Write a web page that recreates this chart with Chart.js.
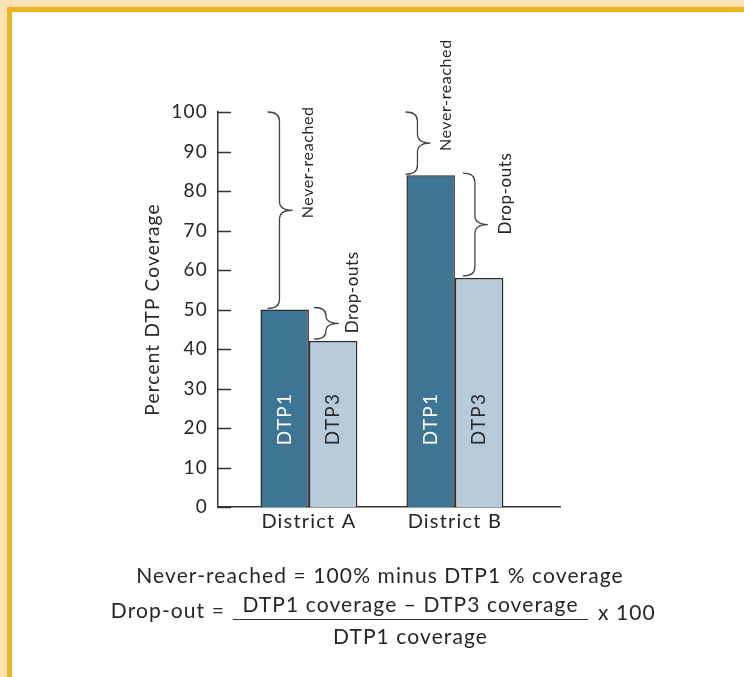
<!DOCTYPE html>
<html><head><meta charset="utf-8">
<script src="https://cdn.jsdelivr.net/npm/chart.js@4/dist/chart.umd.min.js"></script>
<style>
html,body{margin:0;padding:0;width:744px;height:677px;overflow:hidden;background:#fbe1b4;}
#frame{position:absolute;left:7px;top:7px;width:760px;height:700px;background:#fff;border-left:5px solid #f0b323;border-top:5px solid #f0b323;box-sizing:border-box;}
#wrap{position:absolute;left:0;top:0;width:744px;height:677px;}
.f{position:absolute;font-family:Lato,"Open Sans",sans-serif;color:#262626;font-size:21px;letter-spacing:1.1px;white-space:nowrap;line-height:22px;}
#bar{position:absolute;left:233px;top:619px;width:355px;height:0;border-top:1.6px solid #333;}
</style></head>
<body>
<div id="frame"></div>
<div id="wrap"><canvas id="c" width="744" height="677"></canvas></div>
<div class="f" id="l1" style="left:0;width:760px;text-align:center;top:564px;">Never-reached = 100% minus DTP1 % coverage</div>
<div class="f" style="right:519px;top:599px;">Drop-out =</div>
<div class="f" style="left:233px;width:355px;text-align:center;top:593px;">DTP1 coverage – DTP3 coverage</div>
<div id="bar"></div>
<div class="f" style="left:233px;width:355px;text-align:center;top:625px;">DTP1 coverage</div>
<div class="f" style="left:598px;top:601px;">x 100</div>
<script>
const categories = ['District A', 'District B'];
const seriesNames = ['DTP1', 'DTP3'];
const dtp1 = [50, 84];
const dtp3 = [42, 58];
const yMin = 0, yMax = 100, yStep = 10;
const braceLabels = ['Never-reached', 'Drop-outs'];

const FONT = 'Lato, "Open Sans", sans-serif';
const TXT = '#262626';
const barColors = ['#3e7494', '#b8cbdb'];
const labelColors = ['#ffffff', '#2b2b2b'];
// brace start x offsets from bar left edge (style)
const neverOffset = [7, -1];
const dropOffset = [5, 8];
const dropTextGap = [14, 18];
const X_MIN = -0.623, X_MAX = 1.72;

function drawBrace(ctx, x, y1, y2, s, w) {
  const ym = (y1 + y2) / 2;
  const r = Math.min(9, (y2 - y1) / 4);
  ctx.beginPath();
  ctx.moveTo(x, y1);
  ctx.quadraticCurveTo(x + s, y1, x + s, y1 + r);
  ctx.lineTo(x + s, ym - r);
  ctx.quadraticCurveTo(x + s, ym, x + w, ym);
  ctx.moveTo(x + w, ym);
  ctx.quadraticCurveTo(x + s, ym, x + s, ym + r);
  ctx.lineTo(x + s, y2 - r);
  ctx.quadraticCurveTo(x + s, y2, x, y2);
  ctx.stroke();
  return ym;
}
function vText(ctx, text, x, y, color, size, align) {
  ctx.save();
  ctx.translate(x, y);
  ctx.rotate(-Math.PI / 2);
  ctx.fillStyle = color;
  ctx.font = size + 'px ' + FONT;
  ctx.textAlign = align;
  ctx.textBaseline = 'middle';
  ctx.fillText(text, 0, 0);
  ctx.restore();
}

const overlay = {
  id: 'overlay',
  beforeDraw(chart) {
    try { chart.ctx.letterSpacing = '1.2px'; } catch (e) {}
  },
  afterDraw(chart) {
    const ctx = chart.ctx;
    const ys = chart.scales.y;
    const area = chart.chartArea;
    ctx.save();
    ctx.strokeStyle = '#333';
    ctx.lineWidth = 1.5;
    ys.ticks.forEach(t => {
      const py = Math.round(ys.getPixelForValue(t.value)) + 0.5;
      ctx.beginPath();
      ctx.moveTo(area.left, py);
      ctx.lineTo(area.left + 13, py);
      ctx.stroke();
    });
    chart.data.datasets.forEach((ds, di) => {
      chart.getDatasetMeta(di).data.forEach(el => {
        vText(ctx, seriesNames[di], el.x, ys.getPixelForValue(0) - 88, labelColors[di], 19, 'center');
      });
    });
    ctx.strokeStyle = '#444';
    ctx.lineWidth = 1.3;
    ctx.letterSpacing = '0.6px';
    const m1 = chart.getDatasetMeta(0).data;
    const m3 = chart.getDatasetMeta(1).data;
    categories.forEach((c, i) => {
      const b1 = m1[i], b3 = m3[i];
      const l1 = b1.x - b1.width / 2;
      const l3 = b3.x - b3.width / 2;
      const xn = l1 + neverOffset[i];
      const ymn = drawBrace(ctx, xn, ys.getPixelForValue(yMax), ys.getPixelForValue(dtp1[i]) - 1, 12, 25);
      vText(ctx, braceLabels[0], xn + 25 + 15, ymn + 8, TXT, 16, 'left');
      const xd = l3 + dropOffset[i];
      const ymd = drawBrace(ctx, xd, ys.getPixelForValue(dtp1[i]) - 2, ys.getPixelForValue(dtp3[i]) - 2, 12, 25);
      vText(ctx, braceLabels[1], xd + 25 + dropTextGap[i], ymd + 10, TXT, 17, 'left');
    });
    ctx.restore();
  }
};

new Chart(document.getElementById('c'), {
  type: 'bar',
  data: {
    datasets: [dtp1, dtp3].map((arr, di) => ({
      label: seriesNames[di],
      data: arr.map((v, i) => ({ x: i, y: v })),
      backgroundColor: barColors[di],
      borderColor: '#2b2b2b',
      borderWidth: 1.5,
      categoryPercentage: 0.664,
      barPercentage: 1
    }))
  },
  options: {
    responsive: false,
    animation: false,
    events: [],
    layout: { padding: { left: 128, top: 112, right: 184, bottom: 140 } },
    plugins: { legend: { display: false }, tooltip: { enabled: false } },
    scales: {
      x: {
        type: 'linear', min: X_MIN, max: X_MAX, offset: false, bounds: 'data', grace: 0,
        grid: { display: false, drawTicks: false, offset: false },
        border: { display: true, color: '#333', width: 1.5 },
        afterDataLimits: s => { s.min = X_MIN; s.max = X_MAX; },
        afterBuildTicks: s => { s.ticks = categories.map((c, i) => ({ value: i })); },
        afterFit: s => { s.height = 30; },
        ticks: { callback: v => categories[v] ?? '', font: { family: FONT, size: 20 }, color: TXT, padding: 3, autoSkip: false, maxRotation: 0 }
      },
      y: {
        min: yMin, max: yMax,
        grid: { display: false, drawTicks: false },
        border: { display: true, color: '#333', width: 1.5 },
        afterFit: s => { s.width = 90; },
        ticks: { stepSize: yStep, padding: 10, font: { family: FONT, size: 19 }, color: TXT },
        title: { display: true, text: 'Percent DTP Coverage', color: TXT, font: { family: FONT, size: 19 }, padding: { top: 13, bottom: 0 } }
      }
    }
  },
  plugins: [overlay]
});
</script>
</body></html>
